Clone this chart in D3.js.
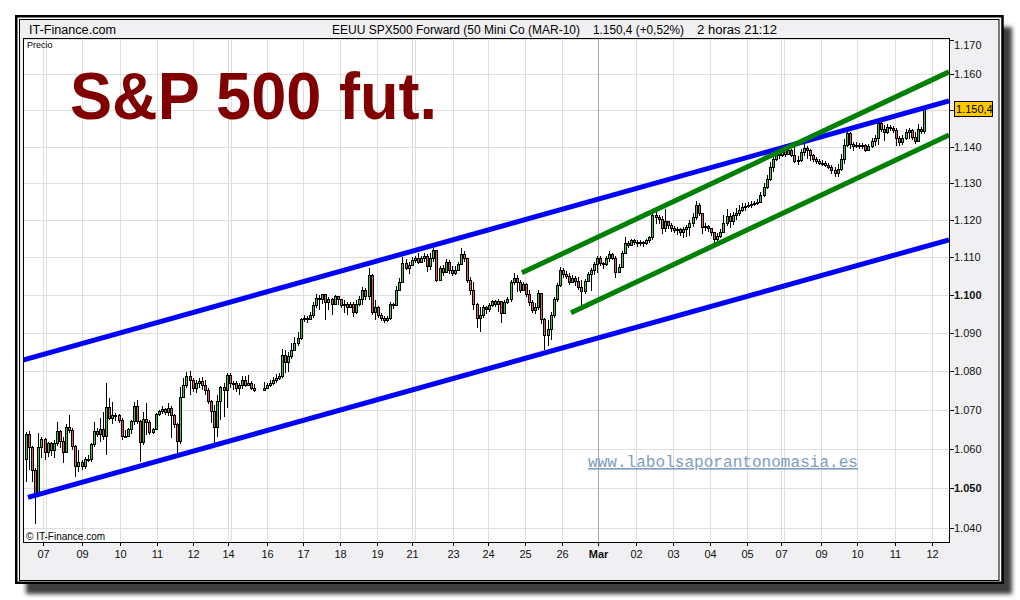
<!DOCTYPE html>
<html><head><meta charset="utf-8">
<script src="https://cdn.jsdelivr.net/npm/d3@7"></script>
<style>html,body{margin:0;padding:0;background:#fff;}svg{display:block;}</style>
</head><body>
<script>
// ---------- DATA ----------
const headerLeft = "IT-Finance.com";
const headerTitle = "EEUU SPX500 Forward (50 Mini Co (MAR-10)";
const headerPrice = "1.150,4 (+0,52%)";
const headerTime = "2 horas  21:12";
const bigTitle = "S&P 500 fut.";
const watermark = "www.labolsaporantonomasia.es";
const lastPrice = 1150.4;
const firstOpen = 1057.2;

const closes = [1063.8,1060.3,1054.6,1048.7,1060.3,1062.3,1059.2,1061.3,1059.7,1061.3,
1064.4,1061.8,1059.2,1065.4,1064.6,1060.5,1055.4,1056.4,1055.4,1057.4,
1057.2,1061.0,1064.4,1063.6,1064.9,1063.1,1070.5,1067.9,1068.5,1068.5,
1067.2,1063.1,1063.1,1064.9,1066.9,1070.8,1066.9,1061.5,1067.4,1066.7,
1064.1,1064.9,1068.7,1069.5,1070.0,1069.2,1070.3,1068.5,1066.2,1061.8,
1073.3,1076.2,1078.7,1077.7,1075.6,1076.7,1077.4,1076.2,1075.1,1072.1,
1069.5,1065.4,1072.1,1075.9,1075.1,1079.0,1076.7,1076.9,1075.6,1076.4,
1077.7,1076.4,1076.9,1075.6,1075.1,null,null,1075.6,1076.4,1076.9,
1077.7,1078.2,1078.5,1084.1,1082.3,1083.8,1085.4,1087.2,1088.5,1093.4,
1093.9,1093.4,1094.5,1097.1,1099.2,1098.7,1100.0,1097.9,1098.7,1097.6,
1099.5,1098.7,1097.1,1097.6,1096.8,1097.6,1095.5,1097.4,1098.7,1101.3,
1099.5,1105.3,1095.5,1096.6,1094.5,1093.9,1093.2,1093.7,1097.6,1097.1,
1101.3,1103.4,1108.4,1107.1,1107.9,1109.2,1109.7,1108.7,1109.7,1110.3,
1107.6,1109.7,1111.8,1103.9,1107.1,1106.1,1108.7,1106.6,1105.8,1106.6,
1108.2,1110.8,1109.7,1103.9,1101.3,1097.4,1093.9,1094.7,1096.6,1096.1,
1097.1,1098.2,1097.6,1098.4,1095.0,1097.9,1098.7,1103.2,1104.5,1103.4,
1101.3,1102.9,1100.0,1097.9,1095.8,1096.6,1100.3,1093.4,1089.2,1090.8,
1094.7,1098.7,1102.4,1106.6,1105.5,1105.0,1103.4,1104.5,1103.7,1102.1,
1100.8,1103.7,1105.5,1106.6,1108.2,1109.7,1108.4,1108.2,1109.7,1110.8,
1109.7,1106.1,1107.4,1111.1,1113.8,1113.3,1114.4,1114.1,1113.6,1114.1,
1113.6,1114.4,1115.2,1121.2,1120.7,1120.1,1117.7,1119.6,1118.5,1117.7,
1117.1,1117.4,1116.6,1117.4,1117.9,1119.0,1120.7,1124.0,1121.8,1117.9,
1118.2,1117.7,1116.6,1114.7,1115.5,1116.8,1119.0,1121.0,1119.6,1121.2,
1121.8,1122.6,1123.4,1123.7,1124.0,1124.2,1124.5,1124.8,1126.7,1128.9,
1131.1,1134.4,1136.6,1138.5,1137.7,1138.8,1137.9,1139.0,1137.7,1136.0,
1136.3,1138.5,1139.6,1138.8,1137.7,1136.6,1136.0,1135.5,1135.5,1134.9,
1134.4,1133.6,1132.7,1133.8,1136.6,1140.4,1143.7,1140.7,1140.1,1140.4,
1140.1,1140.4,1139.0,1140.1,1141.5,1142.3,1146.4,1144.8,1144.0,1145.3,
1145.1,1144.5,1142.1,1141.0,1142.3,1144.0,1144.5,1142.6,1141.5,1144.8,
1144.2,1150.4];

const highs = [1064.4,1064.6,1060.8,1055.1,1064.1,1063.1,1062.8,1061.8,1061.8,1062.3,
1066.9,1064.9,1063.1,1066.4,1068.7,1065.4,1061.0,1059.7,1057.2,1057.9,
1058.5,1061.5,1066.9,1065.4,1067.9,1069.5,1076.9,1073.1,1072.1,1069.2,
1069.0,1067.9,1064.9,1065.4,1067.4,1072.1,1072.6,1067.4,1069.5,1071.8,
1067.4,1065.4,1069.2,1070.0,1071.0,1070.5,1071.8,1071.0,1069.0,1066.7,
1075.9,1078.2,1079.7,1080.0,1078.2,1077.7,1078.2,1078.5,1077.7,1075.6,
1072.6,1071.3,1073.8,1076.2,1076.9,1079.5,1079.5,1077.4,1077.4,1076.9,
1078.7,1078.7,1079.0,1077.4,1076.7,null,null,1077.2,1076.9,1077.7,
1078.5,1079.2,1079.5,1085.9,1085.4,1084.9,1087.4,1089.0,1090.3,1093.9,
1094.7,1094.5,1095.5,1098.2,1100.3,1100.0,1100.3,1099.7,1099.5,1099.2,
1100.0,1099.7,1098.9,1098.7,1098.2,1098.2,1098.2,1098.7,1099.7,1102.1,
1101.8,1107.1,1105.5,1098.7,1097.1,1095.3,1094.5,1094.5,1098.2,1097.9,
1102.4,1104.5,1110.0,1109.7,1108.7,1110.0,1110.5,1111.1,1110.5,1111.3,
1110.8,1111.3,1112.4,1111.3,1107.6,1107.9,1109.7,1109.2,1107.6,1107.6,
1108.7,1112.6,1111.8,1109.9,1104.7,1103.4,1097.9,1096.8,1097.4,1097.1,
1097.9,1098.7,1098.7,1098.9,1098.2,1098.7,1099.5,1103.9,1105.8,1105.3,
1103.9,1103.4,1103.2,1101.3,1098.7,1097.9,1101.3,1099.2,1093.9,1093.4,
1095.5,1099.5,1103.2,1107.4,1107.1,1106.3,1105.8,1105.3,1105.0,1104.7,
1103.9,1104.2,1106.1,1107.1,1108.7,1110.3,1110.3,1108.9,1110.5,1111.6,
1111.1,1110.3,1108.2,1111.8,1115.5,1114.4,1114.9,1114.9,1114.7,1114.7,
1114.4,1114.9,1115.8,1122.1,1122.3,1121.5,1121.0,1122.9,1119.6,1119.3,
1118.5,1118.2,1117.9,1118.2,1118.8,1120.1,1121.8,1125.1,1124.5,1121.8,
1119.3,1118.8,1117.9,1116.8,1116.6,1117.7,1121.5,1122.9,1121.8,1122.1,
1123.4,1124.2,1124.5,1124.5,1124.8,1125.1,1125.3,1125.6,1127.5,1130.0,
1132.2,1135.8,1137.7,1139.3,1138.8,1139.3,1138.8,1139.6,1139.3,1139.9,
1137.4,1139.3,1140.7,1140.1,1139.3,1137.9,1137.1,1136.6,1136.3,1136.0,
1135.5,1134.9,1134.4,1135.2,1137.9,1142.1,1144.2,1143.9,1141.2,1141.2,
1141.0,1141.0,1140.7,1140.7,1142.3,1143.1,1147.0,1147.0,1146.0,1146.2,
1145.9,1145.6,1145.1,1142.9,1143.1,1144.8,1145.1,1144.8,1144.0,1146.2,
1145.3,1150.7];

const lows = [1051.5,1054.6,1051.5,1041.0,1048.2,1057.7,1057.2,1057.9,1058.2,1057.7,
1060.8,1060.3,1056.4,1059.0,1064.1,1059.7,1052.8,1054.1,1054.6,1054.9,
1056.7,1056.7,1060.5,1063.1,1061.8,1062.3,1058.5,1067.4,1066.4,1067.2,
1066.7,1062.3,1062.8,1063.3,1063.8,1066.2,1066.4,1056.7,1061.0,1063.6,
1063.6,1063.8,1064.9,1068.5,1069.0,1068.7,1068.5,1062.8,1065.4,1058.5,
1061.3,1073.1,1075.6,1073.8,1074.6,1074.4,1075.6,1075.1,1073.8,1071.5,
1066.7,1061.5,1063.1,1067.4,1068.2,1070.5,1075.6,1075.1,1074.6,1073.8,
1075.4,1075.9,1076.2,1075.1,1074.6,null,null,1075.1,1075.4,1075.9,
1076.4,1076.9,1077.7,1078.2,1079.5,1079.7,1083.3,1085.9,1086.7,1088.2,
1092.9,1092.6,1093.4,1093.9,1096.6,1096.1,1097.6,1093.4,1096.1,1094.7,
1098.2,1097.4,1096.6,1095.3,1094.7,1096.6,1094.2,1095.0,1097.1,1097.4,
1098.7,1098.7,1094.7,1093.4,1093.9,1093.2,1092.6,1092.9,1093.4,1096.3,
1097.1,1101.3,1103.4,1106.6,1105.5,1107.6,1108.4,1108.2,1108.7,1108.7,
1106.1,1106.6,1108.7,1103.4,1105.3,1105.0,1105.8,1105.5,1105.0,1105.3,
1106.6,1108.4,1108.7,1103.2,1100.0,1096.1,1091.3,1090.3,1093.9,1095.0,
1095.5,1096.8,1096.8,1095.5,1092.6,1096.8,1097.6,1098.2,1102.6,1100.8,
1100.5,1101.3,1099.5,1097.1,1095.3,1095.0,1096.1,1092.4,1085.4,1086.7,
1088.2,1093.9,1098.2,1102.1,1104.5,1104.2,1102.6,1103.2,1102.4,1101.3,
1096.8,1100.3,1103.4,1101.1,1105.3,1105.8,1107.6,1106.8,1107.6,1108.7,
1109.2,1104.5,1106.1,1107.1,1111.4,1112.5,1113.6,1113.3,1112.7,1113.0,
1112.7,1113.3,1113.8,1114.7,1119.0,1119.0,1116.3,1116.8,1117.7,1116.8,
1116.6,1116.0,1115.8,1115.2,1115.5,1115.8,1118.2,1120.1,1121.0,1116.3,
1117.1,1116.8,1115.8,1113.8,1114.1,1115.2,1117.1,1118.5,1117.9,1118.8,
1120.1,1121.2,1122.1,1122.6,1123.2,1123.4,1123.7,1124.0,1124.5,1126.2,
1128.4,1130.5,1133.0,1136.0,1136.6,1137.1,1137.1,1137.7,1137.1,1135.5,
1134.9,1135.8,1137.4,1136.6,1136.0,1135.8,1135.2,1134.9,1134.7,1134.4,
1133.8,1132.5,1131.6,1131.6,1133.3,1135.2,1139.9,1139.3,1138.8,1139.6,
1139.3,1139.3,1138.5,1138.8,1139.6,1140.1,1140.4,1143.9,1141.5,1143.4,
1144.2,1143.7,1140.1,1140.1,1140.4,1141.8,1142.1,1141.8,1140.7,1141.2,
1143.4,1143.4];

// x-axis day labels and their positions (in bar units)
const dayLabels = ["07","09","10","11","12","14","16","17","18","19","21","23","24","25","26","Mar","02","03","04","05","07","09","10","11","12"];
const dayPos    = [5.5,18.3,30.5,42.3,54.1,65.3,78.1,89.8,101.8,113.7,125.2,138.4,149.7,161.7,173.7,185.5,197.7,209.7,221.7,233.7,244.7,257.7,269.3,281.6,293.6];
const weekStartPos = [5.5,65.3,125.2,244.7];
const monthStartPos = [185.5];

// y-axis ticks
const priceTicks = [1040,1050,1060,1070,1080,1090,1100,1110,1120,1130,1140,1150,1160,1170];
const boldTicks = [1050,1100];

// trend lines (bar index, price)
const blueLines = [
  {i1:-1.0, p1:1082.9, i2:299.1, p2:1152.6},
  {i1:0.65, p1:1047.7, i2:299.1, p2:1114.7}
];
const greenLines = [
  {i1:160.7, p1:1105.9, i2:299.1, p2:1160.7},
  {i1:176.6, p1:1095.3, i2:299.1, p2:1143.2}
];

// ---------- DRAW ----------
const W = 1020, H = 600;
const plot = {l:23.5, t:38.5, r:949, b:542};
const svg = d3.select("body").append("svg").attr("width", W).attr("height", H);
const defs = svg.append("defs");
const blur = defs.append("filter").attr("id","sh").attr("x","-5%").attr("y","-5%").attr("width","110%").attr("height","110%");
blur.append("feGaussianBlur").attr("stdDeviation", 2.2);
defs.append("clipPath").attr("id","clip").append("rect")
  .attr("x", plot.l).attr("y", plot.t).attr("width", plot.r - plot.l).attr("height", plot.b - plot.t);

const es = d3.formatLocale({decimal:",", thousands:".", grouping:[3], currency:["","€"]});
const fmtTick = es.format(",");
const fmtLast = es.format(",.1f");

// shadow + frame
svg.append("rect").attr("x",26).attr("y",27).attr("width",986).attr("height",567)
  .attr("fill","#3c3c3c").attr("filter","url(#sh)");
svg.append("rect").attr("x",16.25).attr("y",16.25).attr("width",986.25).attr("height",566.5)
  .attr("fill","#fff").attr("stroke","#000").attr("stroke-width",2.5);
svg.append("rect").attr("x",19.5).attr("y",19.5).attr("width",979.5).attr("height",561)
  .attr("fill","#f0f0f2").attr("stroke","#000").attr("stroke-width",1);

// header
const font = "'Liberation Sans', Arial, Helvetica, sans-serif";
function hText(t, x, len){
  svg.append("text").attr("x",x).attr("y",33.5).text(t)
    .attr("font-family",font).attr("font-size",12.5).attr("fill","#000")
    .attr("textLength",len).attr("lengthAdjust","spacingAndGlyphs");
}
hText(headerLeft, 29, 87);
hText(headerTitle, 332, 248);
hText(headerPrice, 593, 91);
hText(headerTime, 697, 80);

// plot background
svg.append("rect").attr("x",plot.l).attr("y",plot.t).attr("width",plot.r-plot.l).attr("height",plot.b-plot.t)
  .attr("fill","#fff");

const x = d3.scaleLinear().domain([0, 291]).range([26, 26 + 291*3.086]);
const y = d3.scaleLog().domain([1036.5, 1170.2]).range([542, 38]);

const g = svg.append("g").attr("clip-path","url(#clip)");

// grid
g.selectAll("line.hg").data(priceTicks).enter().append("line")
  .attr("x1",plot.l).attr("x2",plot.r)
  .attr("y1",d=>Math.round(y(d))+0.5).attr("y2",d=>Math.round(y(d))+0.5)
  .attr("stroke","#dedede").attr("stroke-width",1);
g.selectAll("line.vg").data(dayPos).enter().append("line")
  .attr("x1",d=>Math.round(x(d))+0.5).attr("x2",d=>Math.round(x(d))+0.5)
  .attr("y1",plot.t).attr("y2",plot.b)
  .attr("stroke","#dedede").attr("stroke-width",1);
g.selectAll("line.wg").data(weekStartPos).enter().append("line")
  .attr("x1",d=>Math.round(x(d))+3.5).attr("x2",d=>Math.round(x(d))+3.5)
  .attr("y1",plot.t).attr("y2",plot.b)
  .attr("stroke","#dedede").attr("stroke-width",1);
g.selectAll("line.mg").data(monthStartPos).enter().append("line")
  .attr("x1",d=>Math.round(x(d))+0.5).attr("x2",d=>Math.round(x(d))+0.5)
  .attr("y1",plot.t).attr("y2",plot.b)
  .attr("stroke","#a8a8a8").attr("stroke-width",1);

// big title
svg.append("text").attr("x",70).attr("y",119).text(bigTitle)
  .attr("font-family",font).attr("font-weight","bold").attr("font-size",66)
  .attr("fill","#800000").attr("textLength",367).attr("lengthAdjust","spacingAndGlyphs");

// watermark
svg.append("text").attr("x",588).attr("y",467).text(watermark)
  .attr("font-family","'Liberation Mono','DejaVu Sans Mono',monospace").attr("font-size",16)
  .attr("fill","#7f9cc2").attr("text-decoration","underline")
  .attr("textLength",270).attr("lengthAdjust","spacingAndGlyphs");

// small plot texts
svg.append("text").attr("x",27).attr("y",47.5).text("Precio")
  .attr("font-family",font).attr("font-size",9).attr("fill","#000");
svg.append("text").attr("x",26).attr("y",539.5).text("\u00A9 IT-Finance.com")
  .attr("font-family",font).attr("font-size",10).attr("fill","#000");

// candles
const bars = [];
let prev = firstOpen;
closes.forEach((c,i)=>{
  if (c === null) return;
  const o = prev;
  bars.push({i, o, c, h: Math.max(highs[i], o, c), l: Math.min(lows[i], o, c)});
  prev = c;
});
const cg = g.append("g").attr("shape-rendering","crispEdges");
const cb = cg.selectAll("g.bar").data(bars).enter().append("g");
cb.append("line")
  .attr("x1",d=>Math.round(x(d.i))+0.5).attr("x2",d=>Math.round(x(d.i))+0.5)
  .attr("y1",d=>y(d.h)).attr("y2",d=>y(d.l))
  .attr("stroke","#000").attr("stroke-width",1);
cb.append("rect")
  .attr("x",d=>Math.round(x(d.i))-0.5).attr("width",2)
  .attr("y",d=>Math.min(y(d.o),y(d.c)))
  .attr("height",d=>Math.max(1, Math.abs(y(d.o)-y(d.c))))
  .attr("fill",d=>d.c>=d.o ? "#3cc83c" : "#e05c5c")
  .attr("stroke","#000").attr("stroke-width",1);

// trend lines
function drawLines(data, color){
  g.selectAll(null).data(data).enter().append("line")
    .attr("x1",d=>x(d.i1)).attr("y1",d=>y(d.p1))
    .attr("x2",d=>x(d.i2)).attr("y2",d=>y(d.p2))
    .attr("stroke",color).attr("stroke-width",5);
}
drawLines(blueLines, "#0000ff");
drawLines(greenLines, "#008000");

// plot border
svg.append("rect").attr("x",plot.l).attr("y",plot.t).attr("width",plot.r-plot.l+0.5).attr("height",plot.b-plot.t+0.5)
  .attr("fill","none").attr("stroke","#000").attr("stroke-width",1);

// right axis (the 1.150 label sits under the last-price box, as in the reference)
const ly = y(lastPrice);
priceTicks.forEach(v=>{
  const yy = Math.round(y(v))+0.5;
  svg.append("line").attr("x1",plot.r).attr("x2",plot.r+5).attr("y1",Math.max(yy,40.5)).attr("y2",Math.max(yy,40.5))
    .attr("stroke","#000");
  if (Math.abs(y(v) - ly) < 12) return;
  svg.append("text").attr("x",954).attr("y",Math.max(yy,45)).attr("dy","0.35em")
    .text(fmtTick(v)).attr("font-family",font).attr("font-size",11)
    .attr("font-weight", boldTicks.includes(v) ? "bold" : "normal").attr("fill","#111");
});
// last price box
svg.append("rect").attr("x",954.5).attr("y",Math.round(ly)-7.5).attr("width",38).attr("height",15)
  .attr("fill","#ffc800").attr("stroke","#000").attr("stroke-width",1);
svg.append("text").attr("x",956).attr("y",Math.round(ly)).attr("dy","0.36em").text(fmtLast(lastPrice))
  .attr("font-family",font).attr("font-size",11).attr("fill","#000");

// bottom axis
dayLabels.forEach((lab,k)=>{
  const xx = Math.round(x(dayPos[k]))+0.5;
  svg.append("line").attr("x1",xx).attr("x2",xx).attr("y1",plot.b).attr("y2",plot.b+4).attr("stroke","#000");
  svg.append("text").attr("x",xx).attr("y",558).attr("text-anchor","middle").text(lab)
    .attr("font-family",font).attr("font-size",11)
    .attr("font-weight", lab==="Mar" ? "bold" : "normal").attr("fill","#111");
});
</script>
</body></html>
